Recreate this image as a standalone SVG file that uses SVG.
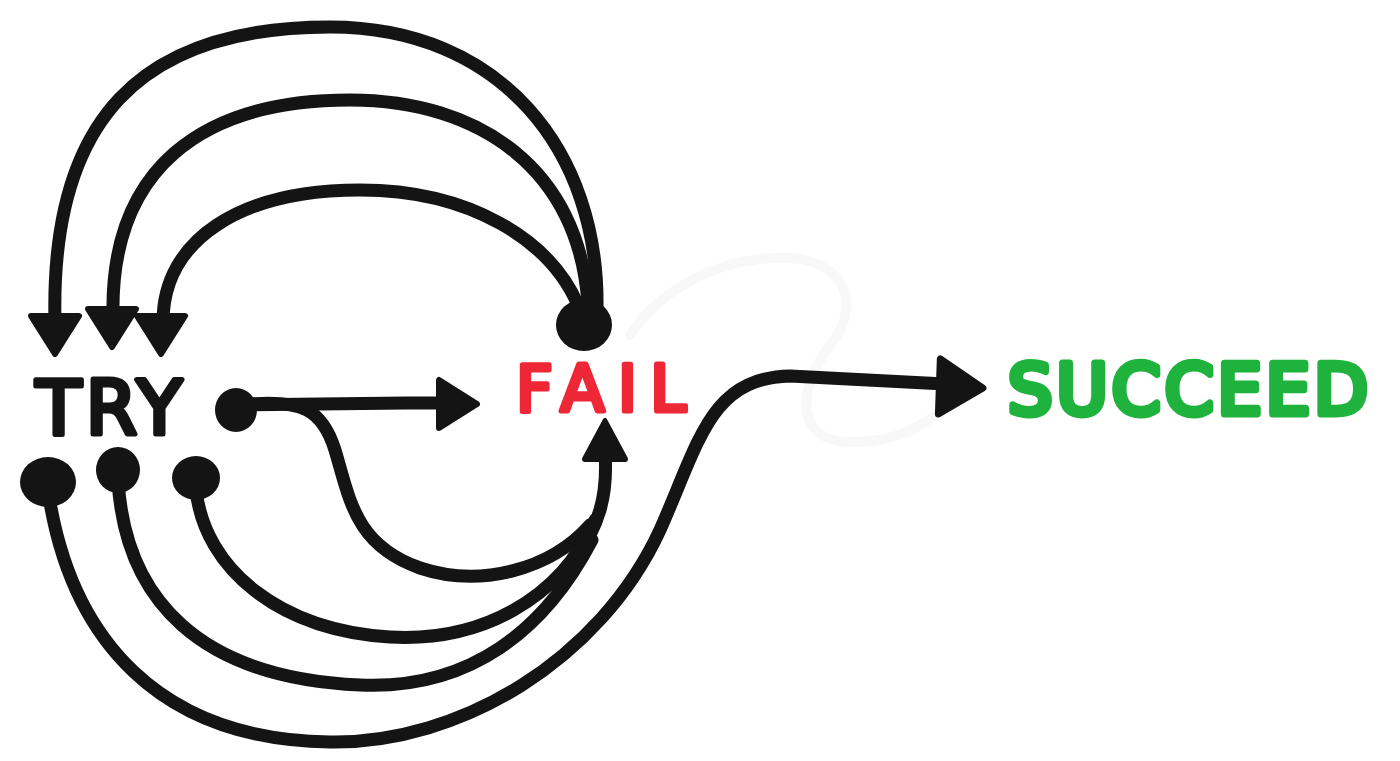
<svg xmlns="http://www.w3.org/2000/svg" width="1400" height="761" viewBox="0 0 1400 761">
  <style>
    .wire { fill: none; stroke: #141414; stroke-width: 13; stroke-linecap: round; stroke-linejoin: round; }
    .head { fill: #141414; stroke: #141414; stroke-width: 6; stroke-linejoin: round; }
    .dot { fill: #141414; }
    .lbl { font-family: "DejaVu Sans", "Liberation Sans", sans-serif; font-weight: normal; stroke-linejoin: round; stroke-linecap: round; paint-order: stroke; }
    .erased { fill: none; stroke: #f8f8f8; stroke-width: 10; stroke-linecap: round; }
  </style>
  <defs>
    <path id="ah" d="M0 0 L-38 -24 L-38 24 Z"/>
  </defs>
  <rect width="1400" height="761" fill="#ffffff"/>

  <g id="erased-sketch">
    <path class="erased" d="M630 335 C 660 290, 720 255, 790 258 C 850 262, 860 310, 830 345 C 800 385, 790 440, 850 442 C 900 444, 930 420, 950 405"/>
  </g>

  <g id="connectors">
    <!-- loops from FAIL back to TRY (top) -->
    <path class="wire" d="M55 322 C 50 120, 140 27, 330 27 C 500 27, 600 150, 597 310"/>
    <path class="wire" d="M113 316 C 110 170, 200 100, 350 100 C 480 100, 580 170, 588 305"/>
    <path class="wire" d="M163 322 C 163 240, 240 190, 360 190 C 470 190, 550 240, 578 305"/>
    <!-- TRY -> FAIL straight -->
    <path class="wire" d="M240 405 C 320 404, 380 403, 445 403"/>
    <!-- TRY dot branch curving down to FAIL -->
    <path class="wire" d="M250 404 C 300 400, 322 408, 335 450 C 350 500, 355 545, 420 568 C 480 588, 550 570, 590 525"/>
    <!-- bottom loops to FAIL -->
    <path class="wire" d="M196 490 C 205 570, 280 630, 390 637 C 480 642, 560 600, 595 520"/>
    <path class="wire" d="M118 480 C 125 600, 200 678, 360 685 C 470 690, 545 630, 592 540"/>
    <!-- trunk up to FAIL -->
    <path class="wire" d="M572 565 C 600 525, 608 495, 605 452"/>
    <!-- outer loop to SUCCEED -->
    <path class="wire" d="M48 490 C 70 640, 160 740, 330 742 C 460 744, 600 660, 660 530 C 700 440, 710 378, 790 376 L 945 384"/>
    <!-- arrowheads -->
    <use href="#ah" class="head" transform="translate(55 354) rotate(90)"/>
    <use href="#ah" class="head" transform="translate(112 347) rotate(90)"/>
    <use href="#ah" class="head" transform="translate(161 354) rotate(90)"/>
    <use href="#ah" class="head" transform="translate(477 404)"/>
    <use href="#ah" class="head" transform="translate(605 421) rotate(-90) scale(1 0.85)"/>
    <use href="#ah" class="head" transform="translate(983 388) rotate(2) scale(1.15 1.15)"/>
  </g>

  <g id="node-try">
    <text class="lbl" x="36" y="434" font-size="74" textLength="146" lengthAdjust="spacing" fill="#141414" stroke="#141414" stroke-width="5">TRY</text>
    <ellipse class="dot" cx="236" cy="410" rx="21" ry="22"/>
    <ellipse class="dot" cx="48" cy="482" rx="28" ry="25"/>
    <ellipse class="dot" cx="118" cy="470" rx="22" ry="23"/>
    <ellipse class="dot" cx="196" cy="478" rx="24" ry="22"/>
  </g>

  <g id="node-fail">
    <ellipse class="dot" cx="584" cy="325" rx="28" ry="26"/>
    <text class="lbl" x="516" y="411" font-size="64" textLength="170" lengthAdjust="spacing" fill="#ee2737" stroke="#ee2737" stroke-width="5">FAIL</text>
  </g>

  <g id="node-succeed">
    <text class="lbl" x="1008" y="414" font-size="70" textLength="360" lengthAdjust="spacing" fill="#1fb33d" stroke="#1fb33d" stroke-width="7">SUCCEED</text>
  </g>
</svg>
